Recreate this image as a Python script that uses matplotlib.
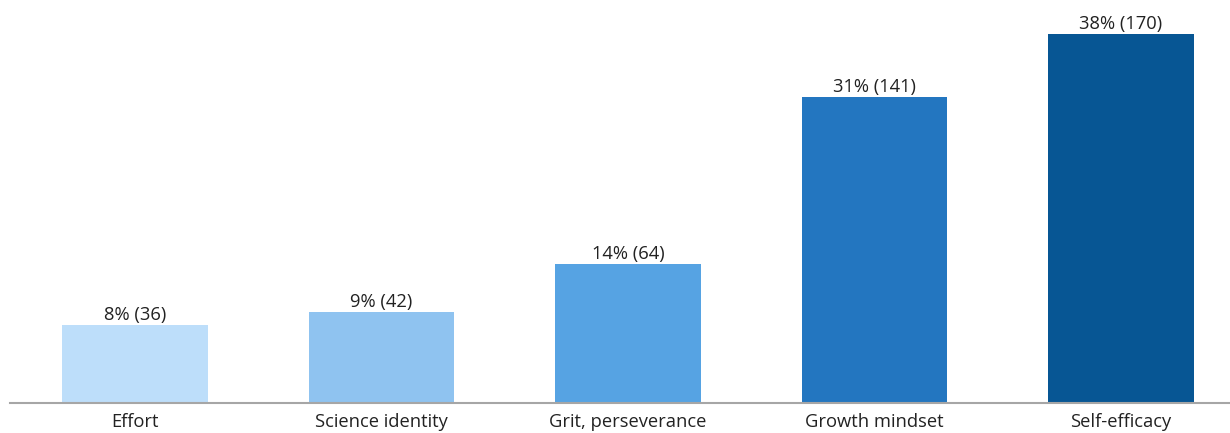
import matplotlib.pyplot as plt

plt.rcParams['font.family'] = ['Open Sans', 'DejaVu Sans']

labels = ['Effort', 'Science identity', 'Grit, perseverance', 'Growth mindset', 'Self-efficacy']
counts = [36, 42, 64, 141, 170]
pcts = [8, 9, 14, 31, 38]
colors = ['#BDDEFA', '#8FC3F0', '#56A3E3', '#2376C0', '#075694']

fig = plt.figure(figsize=(12.3, 4.33), dpi=100)
ax = fig.add_axes([10 / 1230, 30 / 433, 1 - 10 / 1230, 1 - 30 / 433])

x = range(len(labels))
bars = ax.bar(x, counts, width=0.592, color=colors)

for b, c, p in zip(bars, counts, pcts):
    ax.text(b.get_x() + b.get_width() / 2, c + 0.3, f'{p}% ({c})',
            ha='center', va='bottom', fontsize=13.2, color='#222222')

ax.set_xlim(-0.507, 4.442)
ax.set_ylim(0, 185.7)
ax.set_xticks(list(x))
ax.set_xticklabels(labels, fontsize=13.2, color='#222222')
ax.tick_params(axis='x', length=0, pad=7)
ax.set_yticks([])
for s in ['top', 'right', 'left']:
    ax.spines[s].set_visible(False)
ax.spines['bottom'].set_color('#A6A6A6')
ax.spines['bottom'].set_linewidth(1.5)

fig.savefig('out.png', dpi=100)
